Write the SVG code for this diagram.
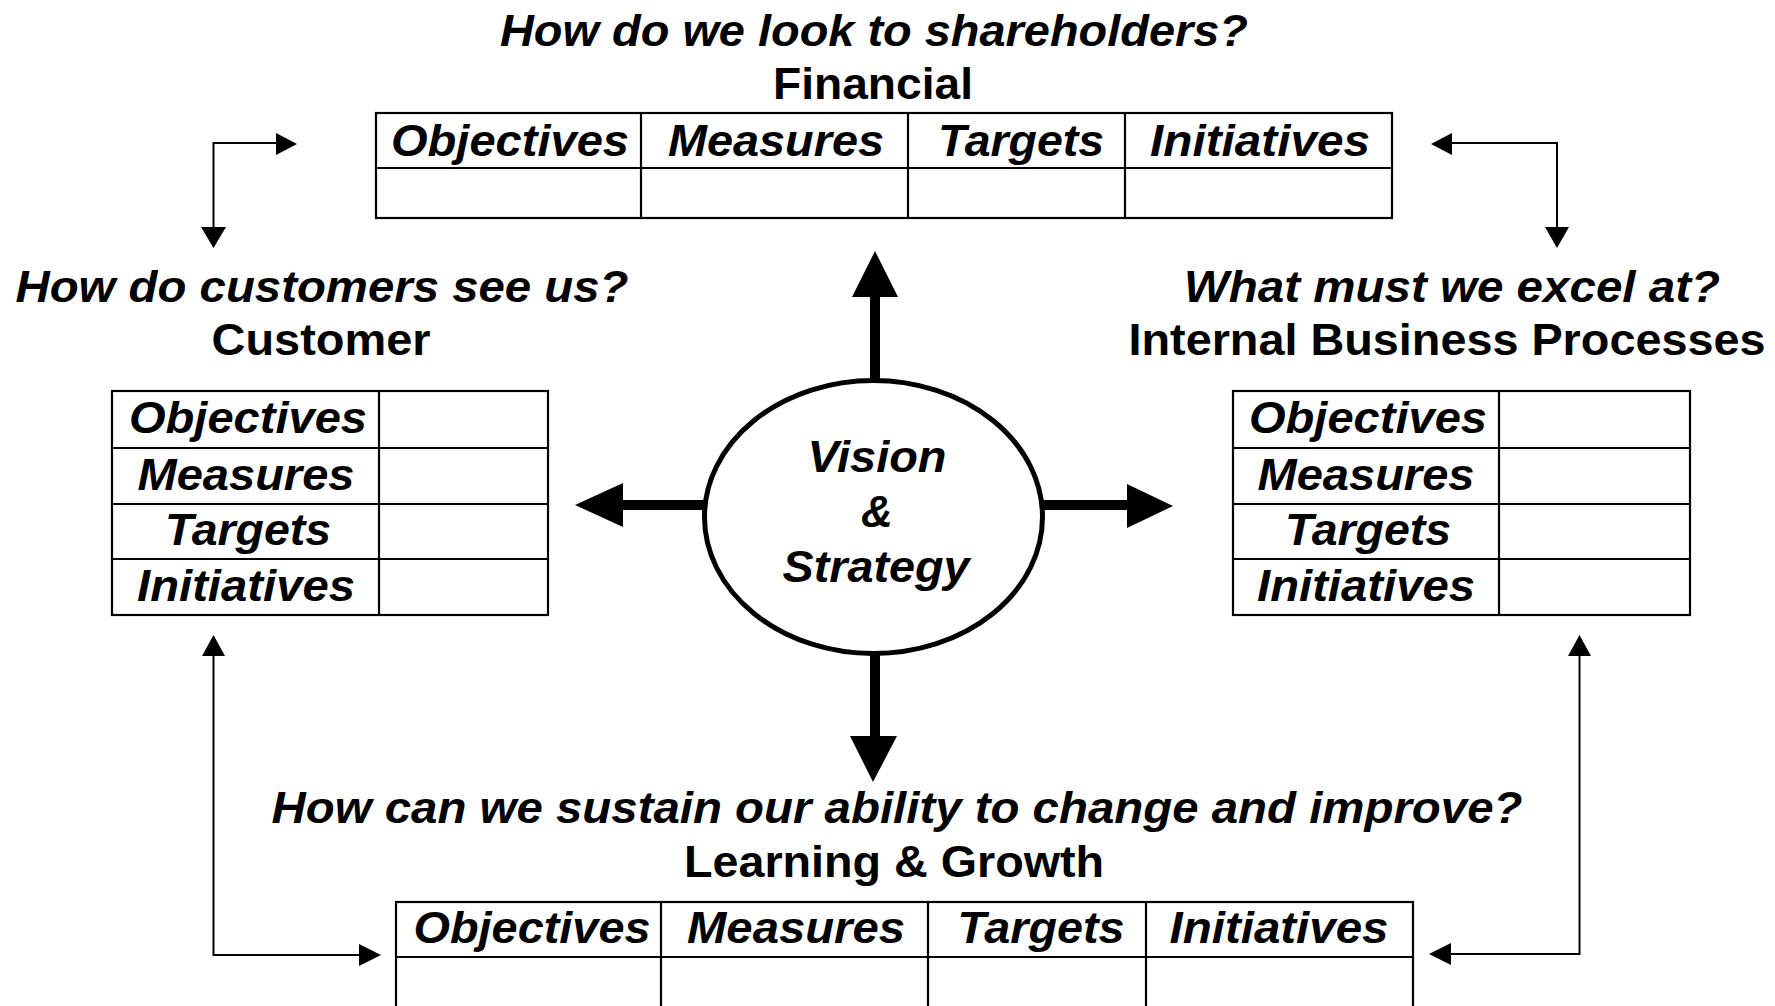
<svg xmlns="http://www.w3.org/2000/svg" width="1775" height="1006" viewBox="0 0 1775 1006">
  <defs>
    <style>
      .q { font-family: "Liberation Sans", Arial, sans-serif; font-size: 44px; font-weight: bold; font-style: italic; fill: #000; text-anchor: middle; }
      .p { font-family: "Liberation Sans", Arial, sans-serif; font-size: 44px; font-weight: bold; fill: #000; text-anchor: middle; }
      .cell { font-family: "Liberation Sans", Arial, sans-serif; font-size: 44px; font-weight: bold; font-style: italic; fill: #000; text-anchor: middle; }
      .grid { fill: #fff; stroke: #000; stroke-width: 2.2; }
      .rule { stroke: #000; stroke-width: 2.2; fill: none; }
      .thin { stroke: #000; stroke-width: 2; fill: none; }
      .thick { stroke: #000; stroke-width: 10; fill: none; }
      .head { fill: #000; stroke: none; }
    </style>
  </defs>

  <rect width="1775" height="1006" fill="#fff"/>

  <!-- Financial perspective -->
  <g id="financial">
    <text class="q" x="874" y="46" textLength="748" lengthAdjust="spacingAndGlyphs">How do we look to shareholders?</text>
    <text class="p" x="873" y="99" textLength="200" lengthAdjust="spacingAndGlyphs">Financial</text>
    <rect class="grid" x="376" y="113" width="1016" height="105"/>
    <line class="rule" x1="376" y1="168" x2="1392" y2="168"/>
    <line class="rule" x1="641" y1="113" x2="641" y2="218"/>
    <line class="rule" x1="908" y1="113" x2="908" y2="218"/>
    <line class="rule" x1="1125" y1="113" x2="1125" y2="218"/>
    <text class="cell" x="510" y="156" textLength="238" lengthAdjust="spacingAndGlyphs">Objectives</text>
    <text class="cell" x="776" y="156" textLength="216" lengthAdjust="spacingAndGlyphs">Measures</text>
    <text class="cell" x="1021" y="156" textLength="166" lengthAdjust="spacingAndGlyphs">Targets</text>
    <text class="cell" x="1260" y="156" textLength="220" lengthAdjust="spacingAndGlyphs">Initiatives</text>
  </g>

  <!-- Customer perspective -->
  <g id="customer">
    <text class="q" x="322" y="302" textLength="613" lengthAdjust="spacingAndGlyphs">How do customers see us?</text>
    <text class="p" x="321" y="355" textLength="219" lengthAdjust="spacingAndGlyphs">Customer</text>
    <rect class="grid" x="112" y="391" width="436" height="224"/>
    <line class="rule" x1="379" y1="391" x2="379" y2="615"/>
    <line class="rule" x1="112" y1="448" x2="548" y2="448"/>
    <line class="rule" x1="112" y1="504" x2="548" y2="504"/>
    <line class="rule" x1="112" y1="559" x2="548" y2="559"/>
    <text class="cell" x="248" y="433" textLength="238" lengthAdjust="spacingAndGlyphs">Objectives</text>
    <text class="cell" x="246" y="490" textLength="217" lengthAdjust="spacingAndGlyphs">Measures</text>
    <text class="cell" x="248" y="545" textLength="166" lengthAdjust="spacingAndGlyphs">Targets</text>
    <text class="cell" x="246" y="601" textLength="218" lengthAdjust="spacingAndGlyphs">Initiatives</text>
  </g>

  <!-- Internal business processes perspective -->
  <g id="internal">
    <text class="q" x="1452" y="302" textLength="536" lengthAdjust="spacingAndGlyphs">What must we excel at?</text>
    <text class="p" x="1447" y="355" textLength="637" lengthAdjust="spacingAndGlyphs">Internal Business Processes</text>
    <rect class="grid" x="1233" y="391" width="457" height="224"/>
    <line class="rule" x1="1499" y1="391" x2="1499" y2="615"/>
    <line class="rule" x1="1233" y1="448" x2="1690" y2="448"/>
    <line class="rule" x1="1233" y1="504" x2="1690" y2="504"/>
    <line class="rule" x1="1233" y1="559" x2="1690" y2="559"/>
    <text class="cell" x="1368" y="433" textLength="238" lengthAdjust="spacingAndGlyphs">Objectives</text>
    <text class="cell" x="1366" y="490" textLength="217" lengthAdjust="spacingAndGlyphs">Measures</text>
    <text class="cell" x="1368" y="545" textLength="166" lengthAdjust="spacingAndGlyphs">Targets</text>
    <text class="cell" x="1366" y="601" textLength="218" lengthAdjust="spacingAndGlyphs">Initiatives</text>
  </g>

  <!-- Learning & growth perspective -->
  <g id="learning">
    <text class="q" x="897" y="823" textLength="1251" lengthAdjust="spacingAndGlyphs">How can we sustain our ability to change and improve?</text>
    <text class="p" x="894" y="877" textLength="420" lengthAdjust="spacingAndGlyphs">Learning &amp; Growth</text>
    <rect class="grid" x="396" y="902" width="1017" height="120"/>
    <line class="rule" x1="396" y1="957" x2="1413" y2="957"/>
    <line class="rule" x1="661" y1="902" x2="661" y2="1022"/>
    <line class="rule" x1="928" y1="902" x2="928" y2="1022"/>
    <line class="rule" x1="1146" y1="902" x2="1146" y2="1022"/>
    <text class="cell" x="532" y="943" textLength="237" lengthAdjust="spacingAndGlyphs">Objectives</text>
    <text class="cell" x="796" y="943" textLength="218" lengthAdjust="spacingAndGlyphs">Measures</text>
    <text class="cell" x="1041" y="943" textLength="167" lengthAdjust="spacingAndGlyphs">Targets</text>
    <text class="cell" x="1279" y="943" textLength="219" lengthAdjust="spacingAndGlyphs">Initiatives</text>
  </g>

  <!-- Vision & Strategy hub -->
  <g id="vision">
    <ellipse cx="873.5" cy="517" rx="169" ry="136.5" fill="#fff" stroke="#000" stroke-width="5"/>
    <text class="q" x="877" y="472" textLength="139" lengthAdjust="spacingAndGlyphs">Vision</text>
    <text class="q" x="877" y="527">&amp;</text>
    <text class="q" x="876" y="582" textLength="187" lengthAdjust="spacingAndGlyphs">Strategy</text>
  </g>

  <!-- Connectors -->
  <g id="connectors">
    <!-- thick arrows from the hub -->
    <line class="thick" x1="875" y1="380" x2="875" y2="294"/>
    <polygon class="head" points="875,251 852,297 898,297"/>
    <line class="thick" x1="875" y1="654" x2="875" y2="739"/>
    <polygon class="head" points="873,782 850,736 897,736"/>
    <line class="thick" x1="704" y1="505" x2="620" y2="505"/>
    <polygon class="head" points="575,505 623,483 623,527"/>
    <line class="thick" x1="1043" y1="505" x2="1130" y2="505"/>
    <polygon class="head" points="1173,506 1127,484 1127,528"/>

    <!-- thin feedback loops -->
    <polyline class="thin" points="278,143 213.5,143 213.5,228"/>
    <polygon class="head" points="297,144 276,133 276,155"/>
    <polygon class="head" points="213.5,248 201,227 226,227"/>

    <polyline class="thin" points="1451,143 1557,143 1557,228"/>
    <polygon class="head" points="1431,144 1452,133 1452,155"/>
    <polygon class="head" points="1557,248 1545,227 1569,227"/>

    <polyline class="thin" points="213.5,654 213.5,955 360,955"/>
    <polygon class="head" points="213.5,635 202,656 225,656"/>
    <polygon class="head" points="381,955 359,944 359,966"/>

    <polyline class="thin" points="1579.5,654 1579.5,954 1450,954"/>
    <polygon class="head" points="1579.5,635 1568,656 1591,656"/>
    <polygon class="head" points="1429,954 1451,943 1451,965"/>
  </g>
</svg>
